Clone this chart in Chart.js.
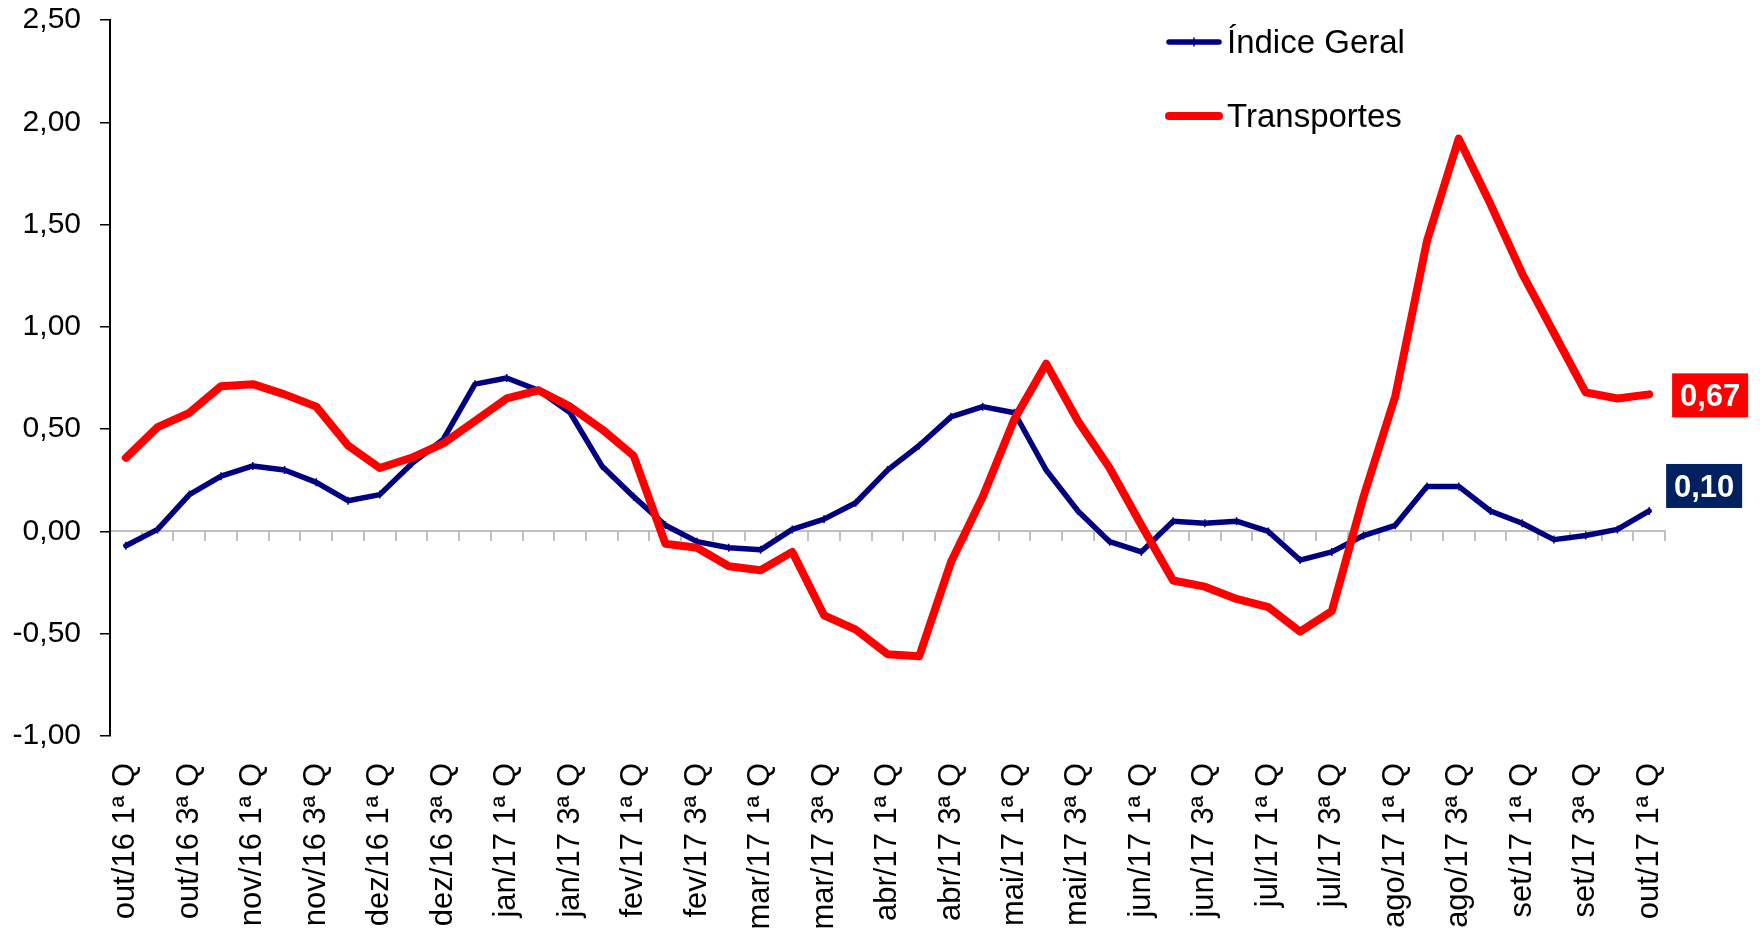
<!DOCTYPE html>
<html>
<head>
<meta charset="utf-8">
<script src="https://cdn.jsdelivr.net/npm/chart.js@4.4.1/dist/chart.umd.min.js"></script>
<style>
  html, body { margin: 0; padding: 0; background: #ffffff; overflow: hidden; }
  #wrap { width: 1760px; height: 930px; position: relative; }
</style>
</head>
<body>
<div id="wrap"><canvas id="c"></canvas></div>
<script>
// ---- data ----
const categories = [
  'out/16 1ª Q','out/16 2ª Q','out/16 3ª Q','out/16 4ª Q',
  'nov/16 1ª Q','nov/16 2ª Q','nov/16 3ª Q','nov/16 4ª Q',
  'dez/16 1ª Q','dez/16 2ª Q','dez/16 3ª Q','dez/16 4ª Q',
  'jan/17 1ª Q','jan/17 2ª Q','jan/17 3ª Q','jan/17 4ª Q',
  'fev/17 1ª Q','fev/17 2ª Q','fev/17 3ª Q','fev/17 4ª Q',
  'mar/17 1ª Q','mar/17 2ª Q','mar/17 3ª Q','mar/17 4ª Q',
  'abr/17 1ª Q','abr/17 2ª Q','abr/17 3ª Q','abr/17 4ª Q',
  'mai/17 1ª Q','mai/17 2ª Q','mai/17 3ª Q','mai/17 4ª Q',
  'jun/17 1ª Q','jun/17 2ª Q','jun/17 3ª Q','jun/17 4ª Q',
  'jul/17 1ª Q','jul/17 2ª Q','jul/17 3ª Q','jul/17 4ª Q',
  'ago/17 1ª Q','ago/17 2ª Q','ago/17 3ª Q','ago/17 4ª Q',
  'set/17 1ª Q','set/17 2ª Q','set/17 3ª Q','set/17 4ª Q',
  'out/17 1ª Q'
];
const indiceGeral = [
  -0.07, 0.01, 0.18, 0.27, 0.32, 0.30, 0.24, 0.15, 0.18, 0.33,
   0.45, 0.72, 0.75, 0.69, 0.58, 0.32, 0.17, 0.03, -0.05, -0.08,
  -0.09, 0.01, 0.06, 0.14, 0.30, 0.42, 0.56, 0.61, 0.58, 0.30,
   0.10, -0.05, -0.10, 0.05, 0.04, 0.05, 0.00, -0.14, -0.10, -0.02,
   0.03, 0.22, 0.22, 0.10, 0.04, -0.04, -0.02, 0.01, 0.10
];
const transportes = [
   0.36, 0.51, 0.58, 0.71, 0.72, 0.67, 0.61, 0.42, 0.31, 0.36,
   0.43, 0.54, 0.65, 0.69, 0.61, 0.50, 0.37, -0.06, -0.08, -0.17,
  -0.19, -0.10, -0.41, -0.48, -0.60, -0.61, -0.15, 0.17, 0.55, 0.82,
   0.54, 0.31, 0.03, -0.24, -0.27, -0.33, -0.37, -0.49, -0.39, 0.17,
   0.66, 1.42, 1.92, 1.60, 1.26, 0.97, 0.68, 0.65, 0.67
];
const seriesNames = ['Índice Geral', 'Transportes'];
const yMin = -1.0, yMax = 2.5, yStep = 0.5;

// ---- styles ----
const NAVY = '#000080';
const RED = '#ff0000';
const FONT = "'Liberation Sans', Arial, sans-serif";
const fmt = v => v.toFixed(2).replace('.', ',');

const legendPlugin = {
  id: 'customLegend',
  afterDraw(chart) {
    const ctx = chart.ctx;
    const rows = [
      { ds: 0, y: 42 },
      { ds: 1, y: 116 }
    ];
    ctx.save();
    rows.forEach(r => {
      const d = chart.data.datasets[r.ds];
      ctx.strokeStyle = d.borderColor;
      ctx.lineWidth = d.borderWidth;
      ctx.lineCap = 'round';
      ctx.beginPath();
      ctx.moveTo(1169, r.y);
      ctx.lineTo(1219, r.y);
      ctx.stroke();
      if (r.ds === 0) {
        ctx.lineWidth = 1.5;
        ctx.beginPath();
        ctx.moveTo(1194, r.y - 4);
        ctx.lineTo(1194, r.y + 4);
        ctx.stroke();
      }
      ctx.fillStyle = '#000';
      ctx.font = '33px ' + FONT;
      ctx.textBaseline = 'middle';
      ctx.textAlign = 'left';
      ctx.fillText(d.label, 1227, r.y + 2);
    });
    ctx.restore();
  }
};

const badgePlugin = {
  id: 'badges',
  afterDatasetsDraw(chart) {
    const ctx = chart.ctx;
    const specs = [
      { ds: 1, dx: 23, dy: 1, bg: '#ff0000' },
      { ds: 0, dx: 17, dy: -25, bg: '#002060' }
    ];
    ctx.save();
    specs.forEach(s => {
      const meta = chart.getDatasetMeta(s.ds);
      const pts = meta.data;
      const pt = pts[pts.length - 1];
      const vals = chart.data.datasets[s.ds].data;
      const v = vals[vals.length - 1];
      const w = 76, h = 44;
      const x = pt.x + s.dx, y = pt.y + s.dy - h / 2;
      ctx.fillStyle = s.bg;
      ctx.fillRect(x, y, w, h);
      ctx.fillStyle = '#ffffff';
      ctx.font = 'bold 31px ' + FONT;
      ctx.textAlign = 'center';
      ctx.textBaseline = 'middle';
      ctx.fillText(fmt(v), x + w / 2, y + h / 2 + 2);
    });
    ctx.restore();
  }
};

new Chart(document.getElementById('c'), {
  type: 'line',
  data: {
    labels: categories,
    datasets: [
      {
        label: seriesNames[0],
        data: indiceGeral,
        borderColor: NAVY,
        backgroundColor: NAVY,
        borderWidth: 5.5,
        tension: 0,
        borderJoinStyle: 'round',
        borderCapStyle: 'round',
        pointStyle: 'line',
        rotation: 90,
        pointRadius: 4,
        pointBorderWidth: 1.5,
        pointBorderColor: NAVY,
        pointHoverRadius: 4,
        order: 2
      },
      {
        label: seriesNames[1],
        data: transportes,
        borderColor: RED,
        backgroundColor: RED,
        borderWidth: 8,
        tension: 0,
        borderJoinStyle: 'round',
        borderCapStyle: 'round',
        pointRadius: 0,
        pointHoverRadius: 0,
        order: 1
      }
    ]
  },
  options: {
    responsive: true,
    maintainAspectRatio: false,
    animation: false,
    events: [],
    layout: { padding: { left: 0, right: 95, top: 0, bottom: 0 } },
    plugins: {
      legend: { display: false },
      tooltip: { enabled: false }
    },
    scales: {
      x: {
        type: 'category',
        offset: true,
        grid: { display: false, drawTicks: false },
        border: { display: false },
        ticks: {
          autoSkip: false,
          minRotation: 90,
          maxRotation: 90,
          padding: 27,
          color: '#000',
          font: { family: FONT, size: 31 },
          callback: (v, i) => (i % 2 === 0 ? categories[i] : '')
        },
        afterFit: s => { s.height = 194; s.paddingLeft = 0; s.paddingRight = 0; }
      },
      xZero: {
        type: 'category',
        position: { y: 0 },
        offset: true,
        grid: {
          offset: true,
          drawOnChartArea: false,
          drawTicks: true,
          tickLength: 9,
          color: '#c0c0c0',
          lineWidth: 2
        },
        border: { display: true, color: '#c0c0c0', width: 2 },
        ticks: { display: false },
        afterFit: s => { s.paddingLeft = 0; s.paddingRight = 0; s.paddingTop = 0; s.paddingBottom = 0; }
      },
      y: {
        min: yMin,
        max: yMax,
        ticks: {
          stepSize: yStep,
          padding: 19,
          color: '#000',
          font: { family: FONT, size: 30 },
          callback: v => fmt(v)
        },
        grid: {
          drawOnChartArea: false,
          drawTicks: true,
          tickLength: 10,
          color: '#000',
          lineWidth: 1.5
        },
        border: { display: true, color: '#000', width: 2 },
        afterFit: s => { s.width = 110; s.paddingTop = 20; s.paddingBottom = 0; }
      }
    }
  },
  plugins: [legendPlugin, badgePlugin]
});
</script>
</body>
</html>
